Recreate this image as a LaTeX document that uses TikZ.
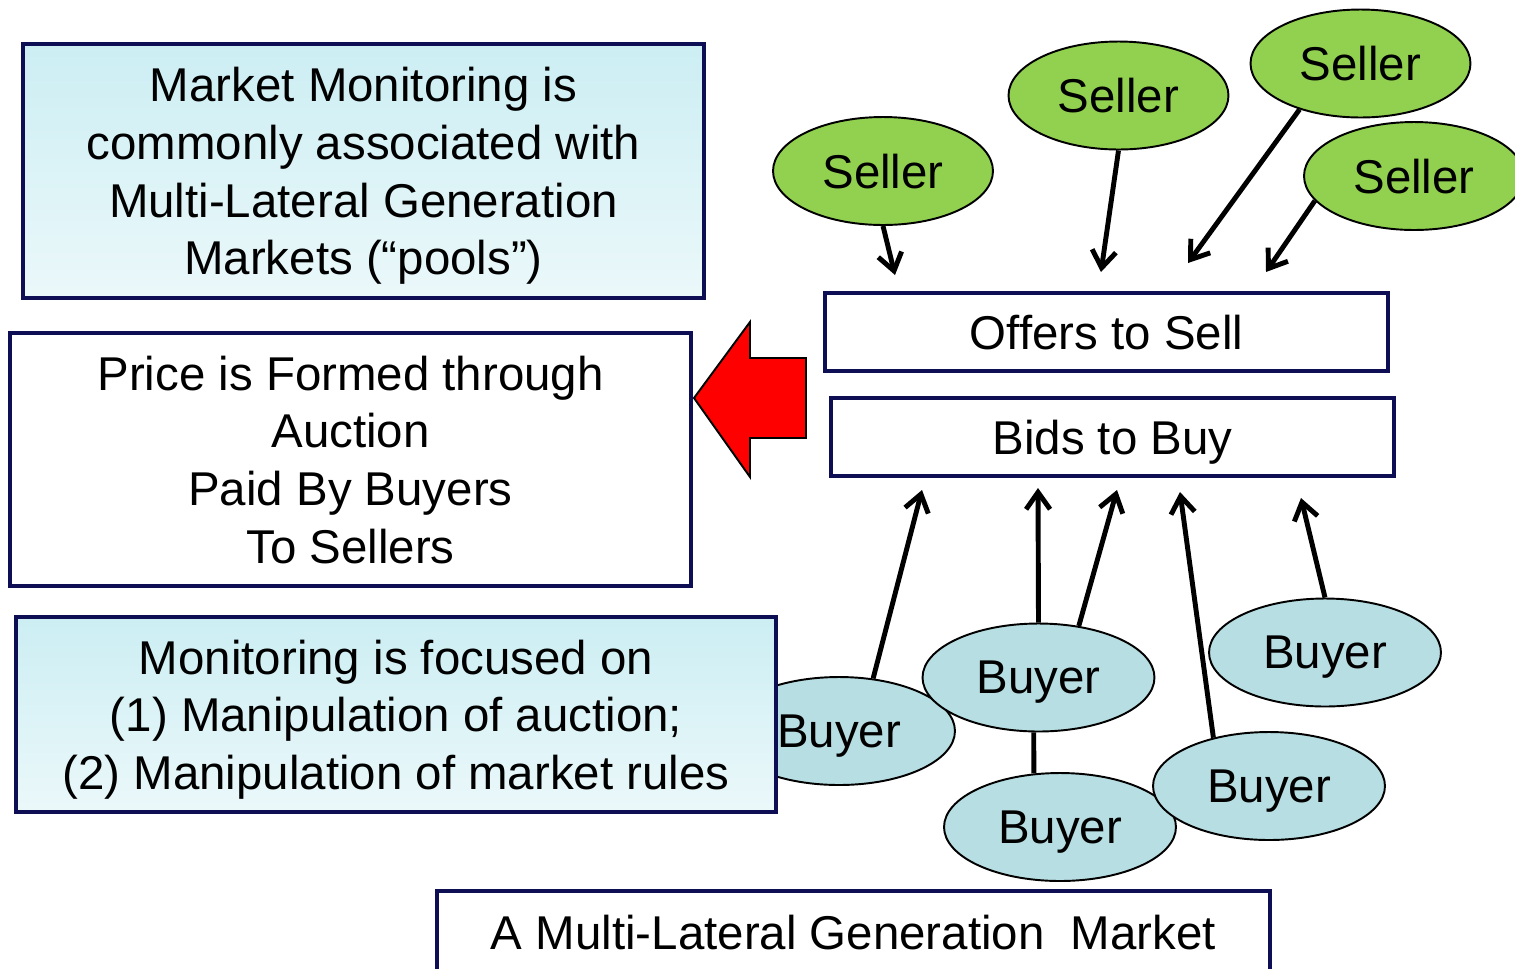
\documentclass[tikz,border=0pt]{standalone}
\usepackage{fontspec}
\setmainfont{Liberation Sans}
\usetikzlibrary{shapes.geometric,arrows.meta}

\definecolor{navy}{RGB}{14,14,84}
\definecolor{sellgreen}{RGB}{146,208,80}
\definecolor{buyblue}{RGB}{183,222,226}
\definecolor{boxtop}{RGB}{204,238,243}
\definecolor{boxbot}{RGB}{235,248,250}

\tikzset{
  every node/.style={font=\fontsize{27}{32.8}\selectfont},
  panel/.style={draw=navy, line width=2.3pt, align=center, inner sep=0pt, text depth=0pt},
  shadedpanel/.style={panel, top color=boxtop, bottom color=boxbot},
  party/.style={ellipse, draw=black, line width=1.1pt, minimum height=2.16cm,
    inner sep=0pt, text depth=0pt},
  seller/.style={party, fill=sellgreen, minimum width=4.4cm},
  buyer/.style={party, fill=buyblue, minimum width=4.64cm},
  flow/.style={line width=2.8pt, -{Straight Barb[length=0.34cm,width=0.48cm]}},
}

\begin{document}
\begin{tikzpicture}[x=0.02cm, y=-0.02cm]
\useasboundingbox (0,0) rectangle (1515,968);

% sellers and their offers
\node[seller] (s1) at (883,171) {Seller};
\node[seller] (s2) at (1118.5,95.5) {Seller};
\node[seller] (s3) at (1360.5,63.5) {Seller};
\node[seller] (s4) at (1414,176) {Seller};
\coordinate (o1) at (895,275);
\coordinate (o2) at (1101,272);
\coordinate (o3) at (1188,263);
\coordinate (o4) at (1266,272);
\draw[flow] (s1.south) -- (o1);
\draw[flow] (s2.south) -- (o2);
\draw[flow] (s3.217) -- (o3);
\draw[flow] (s4.194) -- (o4);

\node[panel, minimum width=11.26cm, minimum height=1.56cm] (offers) at (1106.5,332) {Offers to Sell};
\node[panel, minimum width=11.26cm, minimum height=1.56cm] (bids) at (1112.5,437) {Bids to Buy};

% red arrow
\draw[fill=red, line width=1.1pt] (694,398) -- (750,322) -- (750,358) -- (806,358)
  -- (806,438) -- (750,438) -- (750,477) -- cycle;

% buyers and their bids
\node[buyer] (by1) at (839,731) {Buyer};
\node[buyer] (by2) at (1038.5,677.5) {Buyer};
\node[buyer] (by3) at (1325,652.5) {Buyer};
\node[buyer] (by4) at (1060,827) {Buyer};
\node[buyer] (by5) at (1269,786) {Buyer};
\coordinate (d1) at (922,490);
\coordinate (d2) at (1038,488);
\coordinate (d3) at (1117,490);
\coordinate (d4) at (1180,492);
\coordinate (d5) at (1301,498);
\draw[flow] (by1.57) -- (d1);
\draw[flow] (by2.north) -- (d2);
\draw[flow] (by2.52) -- (d3);
\draw[flow] (by5.139) -- (d4);
\draw[flow] (by3.north) -- (d5);
\draw[line width=2.8pt] (by4.116) -- (by2.265);

% left panels
\node[shadedpanel, minimum width=13.62cm, minimum height=5.08cm] (pools) at (363.5,171)
  {Market Monitoring is\\commonly associated with\\Multi-Lateral Generation\\Markets (“pools”)};
\node[panel, fill=white, minimum width=13.62cm, minimum height=5.06cm] (price) at (350.5,459.5)
  {Price is Formed through\\Auction\\Paid By Buyers\\To Sellers};
\node[shadedpanel, minimum width=15.2cm, minimum height=3.9cm] (focus) at (396,714.5)
  {Monitoring is focused on\\(1) Manipulation of auction;\\(2) Manipulation of market rules};

\node[panel, fill=white, minimum width=16.66cm, minimum height=1.66cm] (market) at (853.5,932.5)
  {A Multi-Lateral Generation~ Market};
\end{tikzpicture}
\end{document}
